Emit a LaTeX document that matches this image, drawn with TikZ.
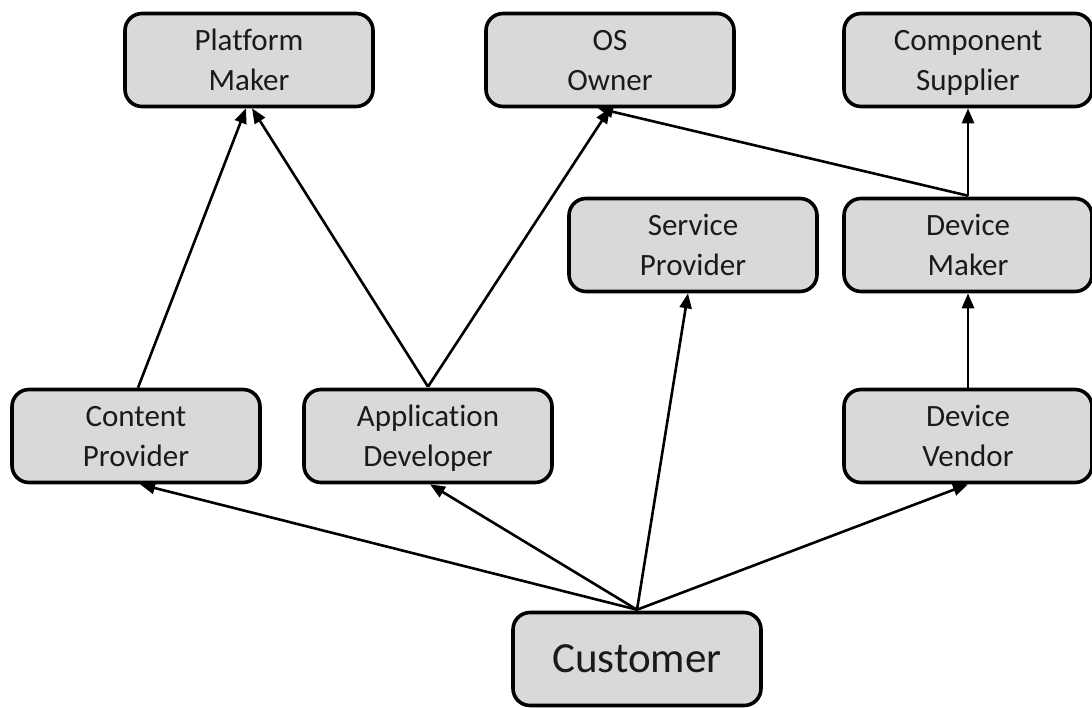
\documentclass[tikz,border=0pt]{standalone}
\usepackage{fontspec}
\setmainfont[Ligatures=NoCommon]{Carlito}
\usetikzlibrary{arrows.meta}
\definecolor{boxfill}{RGB}{217,217,217}
\definecolor{ink}{RGB}{26,26,26}
\begin{document}
\begin{tikzpicture}[x=1pt,y=-1pt,
  role/.style={draw=black,line width=3.6pt,fill=boxfill,rounded corners=17pt,
    minimum width=248pt,minimum height=93pt,inner sep=0pt,align=center,
    text=ink,text depth=-6pt,font=\fontsize{31}{40}\selectfont},
  bigrole/.style={role,text depth=0pt,font=\fontsize{43}{48}\selectfont},
  link/.style={line width=2.6pt,-{Triangle[length=15pt,width=12pt]}}]
\useasboundingbox (0,0) rectangle (1092,707);
% upper row
\node[role] (platform) at (249,60) {Platform\\Maker};
\node[role] (os) at (610,60) {OS\\Owner};
\node[role] (supplier) at (968,60) {Component\\Supplier};
% middle row
\node[role] (service) at (693,245) {Service\\Provider};
\node[role] (maker) at (968,245) {Device\\Maker};
% lower row
\node[role] (content) at (136,436) {Content\\Provider};
\node[role] (appdev) at (428,436) {Application\\Developer};
\node[role] (vendor) at (968,436) {Device\\Vendor};
% bottom
\node[bigrole] (customer) at (637,659) {Customer};
% anchor points on the box edges
\coordinate (cu) at ([yshift=1pt]customer.north);
\coordinate (ad) at ([yshift=1pt]appdev.north);
\coordinate (dm) at ([yshift=1pt]maker.north);
% connectors
\draw[link] ([xshift=2pt]content.north) -- ([xshift=-3pt]platform.south);
\draw[link] (ad) -- ([xshift=3pt]platform.south);
\draw[link] (ad) -- (os.south);
\draw[link] (dm) -- ([xshift=-12pt]os.south);
\draw[link] (dm) -- (supplier.south);
\draw[link] (vendor.north) -- (maker.south);
\draw[link] (cu) -- ([xshift=4pt]content.south);
\draw[link] (cu) -- ([xshift=2pt]appdev.south);
\draw[link] (cu) -- ([xshift=-5pt]service.south);
\draw[link] (cu) -- (vendor.south);
\end{tikzpicture}
\end{document}
